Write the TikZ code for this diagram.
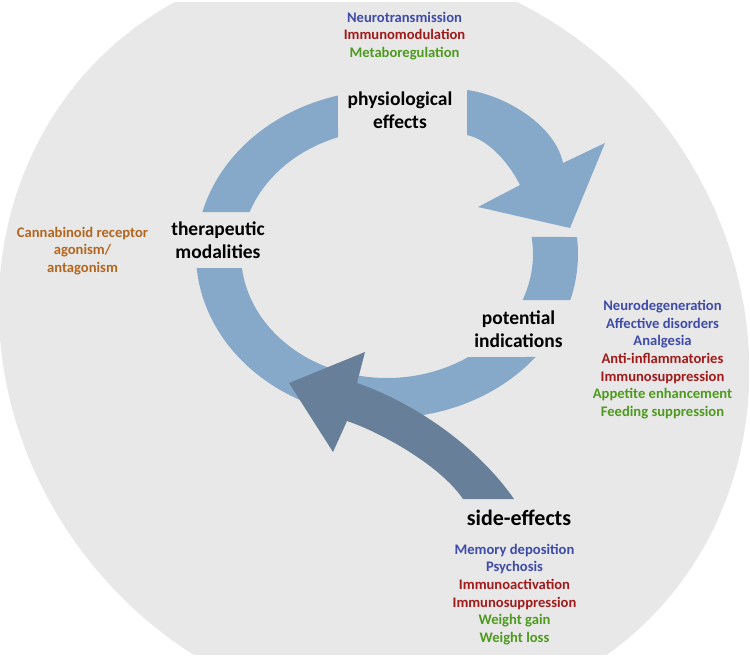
\documentclass[tikz,border=0pt]{standalone}
\usepackage{fontspec}
\setmainfont{Carlito}
\definecolor{bggray}{HTML}{E8E8E8}
\definecolor{ringblue}{HTML}{87A9C9}
\definecolor{darkarrow}{HTML}{687F9A}
\definecolor{tblue}{HTML}{3E4BA8}
\definecolor{tred}{HTML}{A11A1A}
\definecolor{tgreen}{HTML}{4E9A1E}
\definecolor{tbrown}{HTML}{B3661F}
\begin{document}
\begin{tikzpicture}[x=1pt,y=-1pt,
  smalltxt/.style={align=center,inner sep=0pt,font=\bfseries\fontsize{14.6}{17.7}\selectfont},
  bigtxt/.style={align=center,inner sep=0pt,font=\bfseries\fontsize{19.5}{23.2}\selectfont},
  hugetxt/.style={align=center,inner sep=0pt,font=\bfseries\fontsize{22}{26}\selectfont}]
\useasboundingbox (0,0) rectangle (750,657);
\fill[white] (0,0) rectangle (750,657);
% background ellipse
\begin{scope}
\clip (0,2) rectangle (749,654);
\fill[bggray] plot[domain=0:360,samples=145,variable=\t] ({374+374*cos(\t)+31.5*sin(\t)},{339+379*sin(\t)}) -- cycle;
\end{scope}
% ring segments
\fill[ringblue] plot[domain=104.9:165.2,samples=40,variable=\t] ({387+191*cos(\t)},{254-164*sin(\t)})
  -- plot[domain=160.2:109.6,samples=40,variable=\t] ({387+146*cos(\t)},{254-124*sin(\t)}) -- cycle;
\fill[ringblue] plot[domain=5.95:-16.3,samples=20,variable=\t] ({387+191*cos(\t)},{254-164*sin(\t)})
  -- plot[domain=-21.8:7.9,samples=20,variable=\t] ({387+146*cos(\t)},{254-124*sin(\t)}) -- cycle;
\fill[ringblue] plot[domain=-38.9:-175.1,samples=80,variable=\t] ({387+191*cos(\t)},{254-164*sin(\t)})
  -- plot[domain=-173.5:-56.2,samples=80,variable=\t] ({387+146*cos(\t)},{254-124*sin(\t)}) -- cycle;
% upper-right arrow
\fill[ringblue] (467,90) .. controls (505,95) and (555,125) .. (563,163)
  -- (605,143) -- (570,228) -- (478,207) -- (520,185)
  .. controls (510,165) and (490,140) .. (467,135) -- cycle;
% dark arrow
\fill[darkarrow] (514,499) .. controls (480,450) and (420,405) .. (357,383)
  -- (365,352) -- (289,383) -- (333,452) -- (347,421)
  .. controls (380,432) and (440,465) .. (463,499) -- cycle;
% texts
\node[smalltxt] (phys) at (404.5,36) {\textcolor{tblue}{Neurotransmission}\\\textcolor{tred}{Immunomodulation}\\\textcolor{tgreen}{Metaboregulation}};
\node[bigtxt] (physeff) at (400,110) {physiological\\effects};
\node[bigtxt] (thera) at (218,240) {therapeutic\\modalities};
\node[smalltxt,text=tbrown] (canna) at (82.5,251) {Cannabinoid receptor\\agonism/\\antagonism};
\node[bigtxt] (poten) at (518.5,329.5) {potential\\indications};
\node[smalltxt] (indic) at (662.5,359.5) {\textcolor{tblue}{Neurodegeneration}\\\textcolor{tblue}{Affective disorders}\\\textcolor{tblue}{Analgesia}\\\textcolor{tred}{Anti-inflammatories}\\\textcolor{tred}{Immunosuppression}\\\textcolor{tgreen}{Appetite enhancement}\\\textcolor{tgreen}{Feeding suppression}};
\node[hugetxt] (side) at (519,518) {side-effects};
\node[smalltxt] (sidelist) at (514.5,594.5) {\textcolor{tblue}{Memory deposition}\\\textcolor{tblue}{Psychosis}\\\textcolor{tred}{Immunoactivation}\\\textcolor{tred}{Immunosuppression}\\\textcolor{tgreen}{Weight gain}\\\textcolor{tgreen}{Weight loss}};
\end{tikzpicture}
\end{document}
